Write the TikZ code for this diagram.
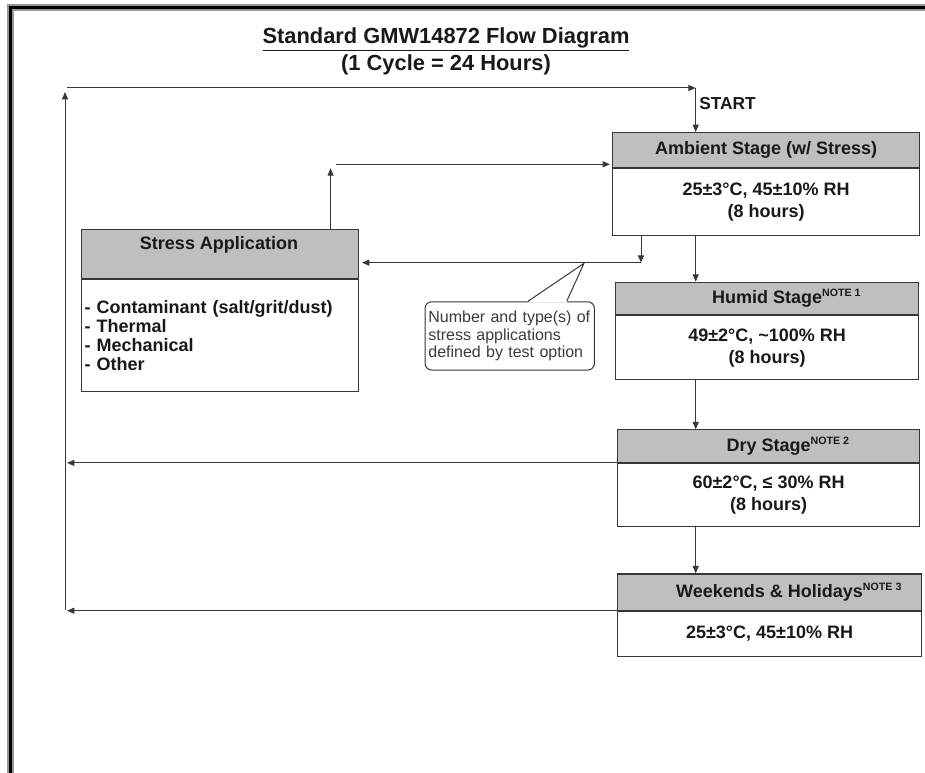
\documentclass[tikz,border=0pt]{standalone}
\usepackage{fontspec}
\setmainfont{Liberation Sans}
\usetikzlibrary{arrows.meta}
\definecolor{hdrgray}{RGB}{191,191,191}
\definecolor{linec}{RGB}{55,55,55}
\definecolor{txtc}{RGB}{25,25,25}
\definecolor{framegray}{RGB}{150,150,150}
\newcommand\notesup[1]{\rlap{\raisebox{5pt}{\fontsize{8}{9}\selectfont #1}}}
\begin{document}
\begin{tikzpicture}[x=0.75pt,y=-0.75pt,
  hdr/.style={draw=linec, fill=hdrgray, line width=0.9pt, inner sep=0pt, anchor=north west,
    text=txtc, font=\bfseries\fontsize{13.5}{16}\selectfont},
  bdy/.style={draw=linec, fill=white, line width=0.9pt, inner sep=0pt, anchor=north west,
    align=center, text=txtc, font=\bfseries\fontsize{13.5}{16.5}\selectfont},
  wire/.style={draw=linec, line width=0.75pt},
  arr/.style={wire, -{Triangle[length=5.5pt,width=4.5pt]}},
  ttl/.style={text=txtc, font=\bfseries\fontsize{16.4}{19}\selectfont, inner sep=0pt},
  lbl/.style={text=txtc, font=\bfseries\fontsize{13}{15}\selectfont, inner sep=0pt},
  callbox/.style={draw=linec, fill=white, line width=0.75pt, rounded corners=5pt,
    minimum width=127pt, minimum height=51.2pt, inner sep=0pt, text width=122pt, align=left,
    text=txtc!85, font=\fontsize{12}{13.3}\selectfont}
]
\useasboundingbox (0,0) rectangle (925,773);
% page frame
\draw[framegray, line width=5.25pt] (10.5,773) -- (10.5,7.5) -- (925,7.5);
\draw[black, line width=2.25pt] (10.5,773) -- (10.5,7.5) -- (925,7.5);

% titles
\node[ttl, anchor=base] (title) at (446,44) {\underline{Standard GMW14872 Flow Diagram}};
\node[ttl, anchor=base] (subtitle) at (446,71) {(1 Cycle = 24 Hours)};

% stage boxes
\node[hdr, minimum width=230.25pt, minimum height=26.25pt] (amb-h) at (612,132) {\raisebox{1.5pt}{Ambient Stage (w/ Stress)}};
\node[bdy, minimum width=230.25pt, minimum height=50.25pt] (amb-b) at (amb-h.south west) {25±3°C, 45±10\% RH\\(8 hours)};

\node[hdr, minimum width=227.25pt, minimum height=24.2pt] (hum-h) at (615,281.7) {Humid Stage\notesup{NOTE 1}};
\node[bdy, minimum width=227.25pt, minimum height=47.8pt] (hum-b) at (hum-h.south west) {49±2°C, \textasciitilde100\% RH\\(8 hours)};

\node[hdr, minimum width=226.5pt, minimum height=24.3pt] (dry-h) at (617,429.3) {Dry Stage\notesup{NOTE 2}};
\node[bdy, minimum width=226.5pt, minimum height=47.5pt] (dry-b) at (dry-h.south west) {\raisebox{3pt}{\begin{tabular}{@{}c@{}}60±2°C, ≤ 30\% RH\\[0.5pt](8 hours)\end{tabular}}};

\node[hdr, minimum width=228pt, minimum height=27.15pt] (wk-h) at (617,573.3) {Weekends \& Holidays\notesup{NOTE 3}};
\node[bdy, minimum width=228pt, minimum height=34.1pt] (wk-b) at (wk-h.south west) {25±3°C, 45±10\% RH};

% stress application box
\node[hdr, minimum width=207.5pt, minimum height=36.3pt] (st-h) at (81,229.3) {};
\node[lbl, font=\bfseries\fontsize{13.5}{16}\selectfont] (st-t) at (219,244.5) {Stress Application};
\node[bdy, minimum width=207.5pt, minimum height=84.2pt, align=left, text width=203pt,
      font=\bfseries\fontsize{13.5}{14.25}\selectfont] (st-b) at (st-h.south west)
  {- Contaminant (salt/grit/dust)\\- Thermal\\- Mechanical\\- Other};

% START label
\node[lbl, anchor=base west] (start) at (699,110) {START};

% coordinates for connector routes
\coordinate (tl) at (67,88);
\coordinate (tr) at (695.7,88);
\coordinate (lb) at (65,609.5);
\coordinate (lt) at (65,92);
\coordinate (lx) at (67,0);
\coordinate (mx) at (695.7,0);
\coordinate (sx) at (641,262.7);
\coordinate (sl) at (362,262.7);
\coordinate (ux) at (330.6,168.3);
\coordinate (ha) at (336,164.3);
\coordinate (hb) at (610,164.3);

% cycle loop
\draw[arr] (tl) -- (tr);
\draw[arr] (tr) -- (amb-h.north -| tr);
\draw[arr] (lb) -- (lt);
\draw[arr] (dry-h.south west) -- (dry-h.south west -| lx);
\draw[arr] (wk-h.south west) -- (wk-h.south west -| lx);

% main chain
\draw[arr] (amb-b.south -| mx) -- (hum-h.north -| mx);
\draw[arr] (hum-b.south -| mx) -- (dry-h.north -| mx);
\draw[arr] (dry-b.south -| mx) -- (wk-h.north -| mx);

% ambient <-> stress
\draw[arr] (amb-b.south -| sx) -- (sx);
\draw[arr] (sx) -- (sl);
\draw[arr] (st-h.north -| ux) -- (ux);
\draw[arr] (ha) -- (hb);

% callout
\node[callbox] (callout) at (509.7,335.9) {Number and type(s) of\\stress applications\\defined by test option};
\coordinate (pa) at (528,0);
\coordinate (pb) at (566.7,0);
\coordinate (ptip) at (584,263.3);
\fill[white] ([yshift=-1pt]callout.north -| pa) -- (ptip) -- ([yshift=-1pt]callout.north -| pb) -- cycle;
\draw[wire] (callout.north -| pa) -- (ptip) -- (callout.north -| pb);
\end{tikzpicture}
\end{document}
